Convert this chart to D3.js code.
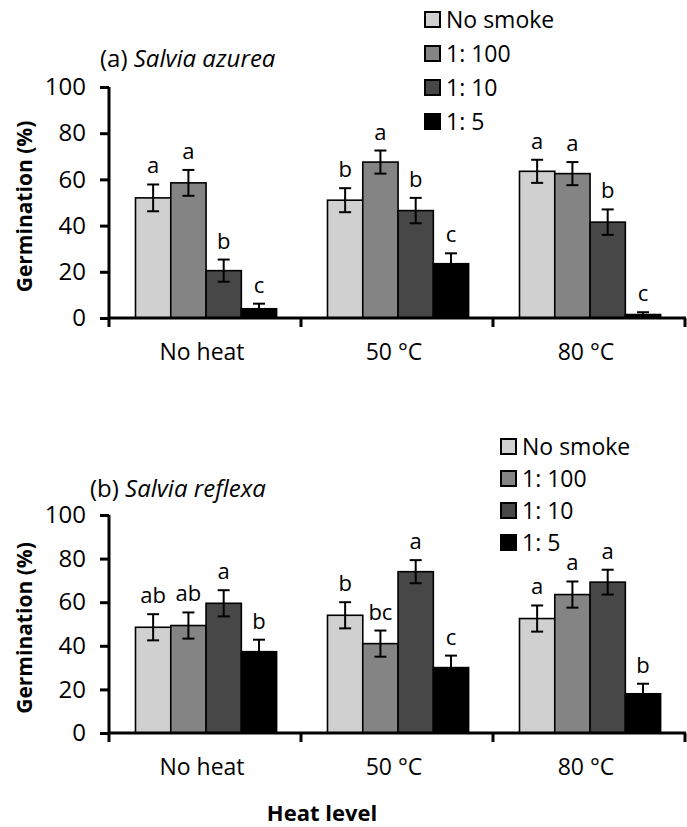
<!DOCTYPE html>
<html>
<head>
<meta charset="utf-8">
<script src="https://cdn.jsdelivr.net/npm/d3@7"></script>
<style>
  html, body { margin: 0; padding: 0; background: #fff; }
  svg text { font-family: 'Open Sans', Lato, sans-serif; fill: #000; }
</style>
</head>
<body>
<svg id="chart" width="687" height="827"></svg>
<script>
const heatLevels = ['No heat', '50 °C', '80 °C'];
const smokeLevels = ['No smoke', '1: 100', '1: 10', '1: 5'];
const smokeColors = ['#d0d0d0', '#848484', '#474747', '#000000'];
const yTicks = [0, 20, 40, 60, 80, 100];

// (a) Salvia azurea — rows follow heatLevels, columns follow smokeLevels
const azureaMeans = [[52, 58.5, 20.5, 4], [51, 67.5, 46.5, 23.5], [63.5, 62.5, 41.5, 1.5]];
const azureaErrors = [[5.8, 5.6, 4.8, 2.2], [5.2, 5, 5.5, 4.5], [5, 5, 5.5, 1]];
const azureaLetters = [['a', 'a', 'b', 'c'], ['b', 'a', 'b', 'c'], ['a', 'a', 'b', 'c']];

// (b) Salvia reflexa
const reflexaMeans = [[48.5, 49.3, 59.5, 37.3], [54, 41, 74, 30], [52.5, 63.5, 69.2, 18]];
const reflexaErrors = [[6, 6, 6, 5.5], [6, 6, 5.3, 5.5], [6, 6, 5.7, 4.6]];
const reflexaLetters = [['ab', 'ab', 'a', 'b'], ['b', 'bc', 'a', 'c'], ['a', 'a', 'a', 'b']];

const svg = d3.select('#chart');
const tickFont = 24;
const labelFont = 23;
const letterFont = 22;
const titleFont = 24;

function drawPanel(cfg) {
  const g = svg.append('g');

  const x0 = d3.scaleBand().domain(heatLevels).range([109, 685]);
  const bw = x0.bandwidth();
  const x1 = d3.scaleBand().domain(smokeLevels).range([bw * 0.138, bw * 0.873]);
  const y = d3.scaleLinear().domain([0, 100]).range([cfg.bottom, cfg.top]);

  const rows = [];
  heatLevels.forEach((h, i) => {
    smokeLevels.forEach((s, j) => {
      rows.push({ heat: h, smoke: s, idx: j, mean: cfg.means[i][j], err: cfg.errors[i][j], letter: cfg.letters[i][j] });
    });
  });

  // bars
  g.selectAll('rect.bar')
    .data(rows)
    .join('rect')
    .attr('class', 'bar')
    .attr('x', (d) => x0(d.heat) + x1(d.smoke))
    .attr('y', (d) => y(d.mean))
    .attr('width', x1.bandwidth())
    .attr('height', (d) => y(0) - y(d.mean))
    .attr('fill', (d) => smokeColors[d.idx])
    .attr('stroke', '#000')
    .attr('stroke-width', 1.6);

  // error bars
  const cx = (d) => x0(d.heat) + x1(d.smoke) + x1.bandwidth() / 2;
  const eb = g.selectAll('g.err').data(rows).join('g').attr('class', 'err')
    .attr('stroke', '#000').attr('stroke-width', 2);
  eb.append('line')
    .attr('x1', cx).attr('x2', cx)
    .attr('y1', (d) => y(Math.max(0, d.mean - d.err))).attr('y2', (d) => y(d.mean + d.err));
  eb.append('line')
    .attr('x1', (d) => cx(d) - 6).attr('x2', (d) => cx(d) + 6)
    .attr('y1', (d) => y(d.mean + d.err)).attr('y2', (d) => y(d.mean + d.err));
  eb.append('line')
    .attr('x1', (d) => cx(d) - 6).attr('x2', (d) => cx(d) + 6)
    .attr('y1', (d) => y(Math.max(0, d.mean - d.err))).attr('y2', (d) => y(Math.max(0, d.mean - d.err)));

  // significance letters
  g.selectAll('text.letter')
    .data(rows)
    .join('text')
    .attr('class', 'letter')
    .attr('x', cx)
    .attr('y', (d) => y(d.mean + d.err) - 11)
    .attr('text-anchor', 'middle')
    .attr('font-size', letterFont)
    .text((d) => d.letter);

  // y axis
  const yAxis = g.append('g')
    .attr('transform', `translate(109,0)`)
    .call(d3.axisLeft(y).tickValues(yTicks).tickSize(9).tickSizeOuter(0).tickPadding(14));
  yAxis.select('.domain').attr('stroke-width', 3).attr('d', `M0,${cfg.top}V${cfg.bottom}`);
  yAxis.selectAll('.tick line').attr('stroke-width', 3);
  yAxis.selectAll('.tick text').attr('font-size', tickFont).attr('font-family', null);

  // x axis with boundary ticks
  const bounds = heatLevels.map((h) => x0(h)).concat([x0(heatLevels[heatLevels.length - 1]) + bw]);
  g.append('line')
    .attr('x1', 108).attr('x2', 686)
    .attr('y1', y(0)).attr('y2', y(0))
    .attr('stroke', '#000').attr('stroke-width', 3);
  g.selectAll('line.xtick')
    .data(bounds)
    .join('line')
    .attr('class', 'xtick')
    .attr('x1', (d) => d).attr('x2', (d) => d)
    .attr('y1', y(0)).attr('y2', y(0) + 9)
    .attr('stroke', '#000').attr('stroke-width', 3);
  g.selectAll('text.xlab')
    .data(heatLevels)
    .join('text')
    .attr('class', 'xlab')
    .attr('x', (d) => x0(d) + bw / 2 - 3)
    .attr('y', cfg.bottom + 42)
    .attr('text-anchor', 'middle')
    .attr('font-size', labelFont)
    .text((d) => d);

  // y label
  g.append('text')
    .attr('transform', `translate(32,${(cfg.top + cfg.bottom) / 2 + 4}) rotate(-90)`)
    .attr('text-anchor', 'middle')
    .attr('font-size', 21)
    .attr('font-weight', 'bold')
    .text('Germination (%)');

  // title
  const title = g.append('text')
    .attr('x', cfg.titleX)
    .attr('y', cfg.titleY)
    .attr('font-size', titleFont);
  title.append('tspan').text(cfg.label + ' ');
  title.append('tspan').attr('font-style', 'italic').text(cfg.species);

  // legend
  const lg = g.selectAll('g.legend')
    .data(smokeLevels)
    .join('g')
    .attr('class', 'legend')
    .attr('transform', (d, i) => `translate(${cfg.legendX},${cfg.legendY + i * cfg.legendStep})`);
  lg.append('rect')
    .attr('x', 0).attr('y', -8)
    .attr('width', 15).attr('height', 15)
    .attr('fill', (d, i) => smokeColors[i])
    .attr('stroke', '#000')
    .attr('stroke-width', 2);
  lg.append('text')
    .attr('x', 21)
    .attr('y', 8)
    .attr('font-size', labelFont)
    .text((d) => d);
}

drawPanel({
  top: 87, bottom: 318,
  means: azureaMeans, errors: azureaErrors, letters: azureaLetters,
  label: '(a)', species: 'Salvia azurea', titleX: 100, titleY: 67,
  legendX: 425, legendY: 20, legendStep: 34
});

drawPanel({
  top: 515, bottom: 733,
  means: reflexaMeans, errors: reflexaErrors, letters: reflexaLetters,
  label: '(b)', species: 'Salvia reflexa', titleX: 90, titleY: 497,
  legendX: 501, legendY: 447, legendStep: 32
});

svg.append('text')
  .attr('x', 322)
  .attr('y', 821)
  .attr('text-anchor', 'middle')
  .attr('font-size', 22)
  .attr('font-weight', 'bold')
  .text('Heat level');
</script>
</body>
</html>
